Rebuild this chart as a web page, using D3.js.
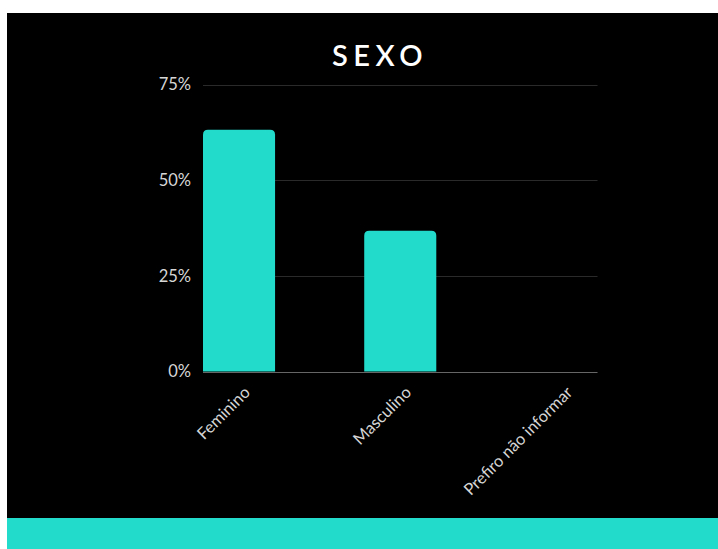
<!DOCTYPE html>
<html><head><meta charset="utf-8">
<script src="https://cdn.jsdelivr.net/npm/d3@7"></script>
<style>html,body{margin:0;padding:0;background:#fff;}svg{display:block;}</style>
</head><body>
<svg id="c" width="718" height="549"></svg>
<script>
const categories = ["Feminino", "Masculino", "Prefiro não informar"];
const values = [63.2, 36.8, 0];
const yTicks = [0, 25, 50, 75];
const title = "SEXO";

const svg = d3.select("#c");
const W = 718, H = 549;
const teal = "#22dbca";

svg.append("rect").attr("x", 7).attr("y", 13).attr("width", W - 7).attr("height", H - 13).attr("fill", "#000");
svg.append("rect").attr("x", 7).attr("y", 518).attr("width", W - 7).attr("height", H - 518).attr("fill", teal);

const x = d3.scaleBand().domain(categories).range([203, 597.5]).paddingInner(0.553).paddingOuter(0);
const y = d3.scaleLinear().domain([0, 75]).range([371.5, 84.5]);

// grid
const grid = svg.append("g");
grid.selectAll("line").data(yTicks.filter(d => d > 0)).join("line")
  .attr("x1", 203).attr("x2", 597.5)
  .attr("y1", d => Math.round(y(d)) + 0.5).attr("y2", d => Math.round(y(d)) + 0.5)
  .attr("stroke", "#2a2a2a").attr("stroke-width", 1);

// y axis labels
const yAxis = d3.axisLeft(y).tickValues(yTicks).tickFormat(d => d + "%").tickSize(0).tickPadding(12);
const ya = svg.append("g").attr("transform", "translate(203,0)").call(yAxis);
ya.select(".domain").remove();
ya.selectAll("text").attr("fill", "#d6d6d6").attr("font-family", "Lato, sans-serif").attr("font-size", 16.5);

// bars with rounded top
const r = 5;
svg.append("g").selectAll("path").data(categories.map((c, i) => ({c, v: values[i]}))).join("path")
  .attr("fill", teal)
  .attr("d", d => {
    const x0 = x(d.c), x1 = x0 + x.bandwidth(), y0 = y(0), y1 = y(d.v);
    if (y0 - y1 < 0.5) return "";
    const rr = Math.min(r, (y0 - y1));
    return `M${x0},${y0}V${y1 + rr}Q${x0},${y1} ${x0 + rr},${y1}H${x1 - rr}Q${x1},${y1} ${x1},${y1 + rr}V${y0}Z`;
  });

// baseline
svg.append("line").attr("x1", 203).attr("x2", 597.5)
  .attr("y1", Math.round(y(0)) + 0.5).attr("y2", Math.round(y(0)) + 0.5)
  .attr("stroke", "#666").attr("stroke-width", 1);

// x axis labels
const xAxis = d3.axisBottom(x).tickSize(0).tickPadding(0);
const xa = svg.append("g").attr("transform", `translate(0,${y(0)})`).call(xAxis);
xa.select(".domain").remove();
xa.selectAll("text")
  .attr("fill", "#d6d6d6").attr("font-family", "Lato, sans-serif").attr("font-size", 16.5)
  .attr("text-anchor", "end").attr("dy", null)
  .attr("transform", "translate(12,22) rotate(-45)");

// title
svg.append("text").attr("x", 380).attr("y", 66).attr("text-anchor", "middle")
  .attr("fill", "#fff").attr("font-family", "Lato, sans-serif").attr("font-weight", 600)
  .attr("font-size", 29).attr("letter-spacing", "5.5px").text(title);
</script>
</body></html>
